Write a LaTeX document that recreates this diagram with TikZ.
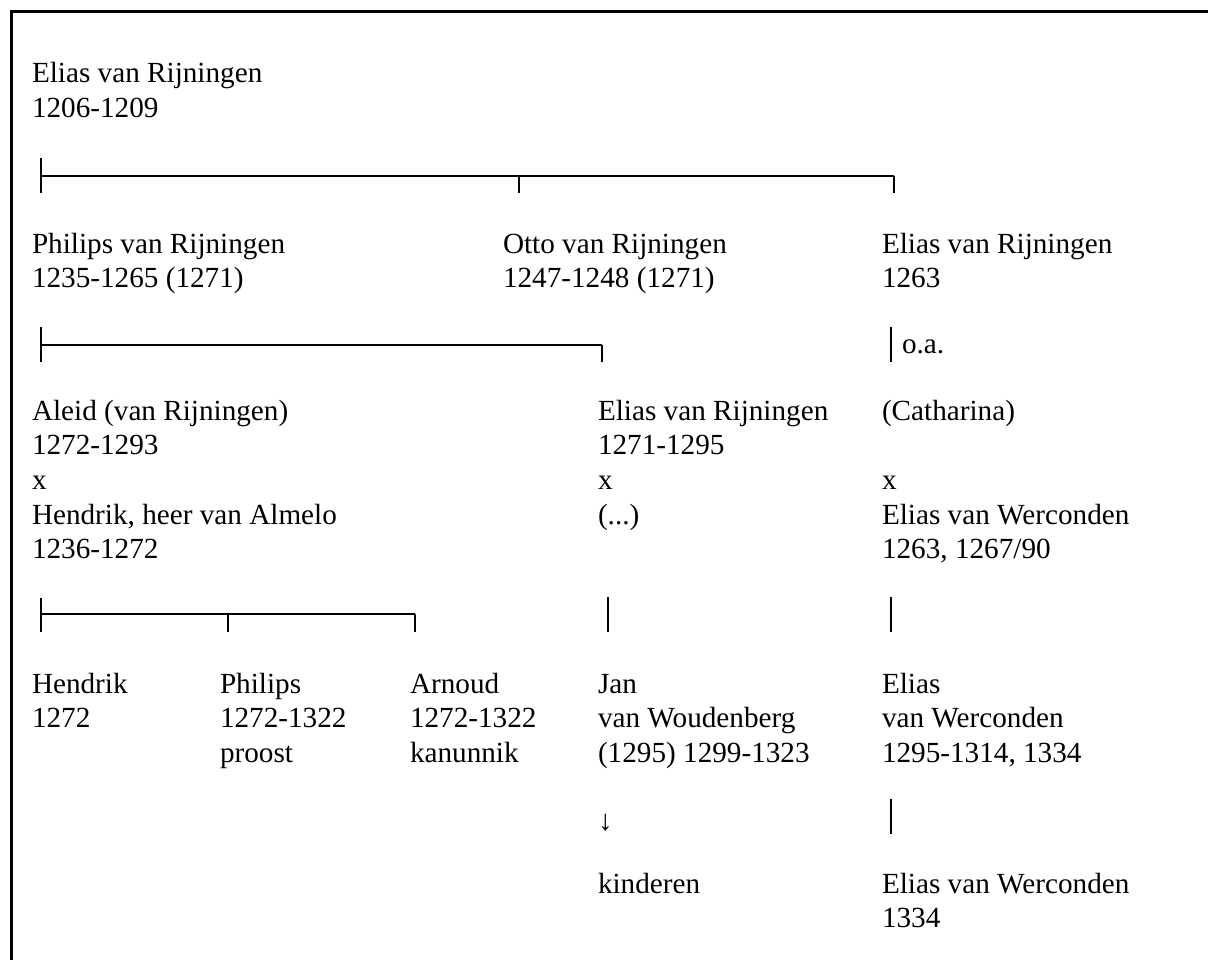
\documentclass[tikz,border=0pt]{standalone}
\usepackage{fontspec}
\setmainfont{Liberation Serif}
\begin{document}
\begin{tikzpicture}[x=1pt,y=-1pt,
  txt/.style={inner sep=0pt, outer sep=0pt, anchor=base west, align=left, font=\fontsize{29.2}{34.7}\selectfont},
  tick/.style={line width=2.6pt},
  hbar/.style={line width=1.6pt},
  frame/.style={line width=3pt}]
\useasboundingbox (0,0) rectangle (1208,960);
% frame (top and left edges visible)
\coordinate (fbl) at (11,960);
\coordinate (ftl) at (11,11.5);
\coordinate (ftr) at (1210,11.5);
\draw[frame] (fbl) -- (ftl) -- (ftr);

% note: base anchor of a multi-line node = baseline of its last line
% generation 1
\node[txt] (g1) at (32,117.7) {Elias van Rijningen\\1206-1209};

% bar 1
\coordinate (a1) at (41,158);
\coordinate (a2) at (41,193);
\coordinate (a3) at (41,176);
\coordinate (a4) at (894,176);
\coordinate (a5) at (519,176);
\coordinate (a6) at (519,193);
\coordinate (a7) at (894,193);
\draw[tick] (a1) -- (a2);
\draw[hbar] (a3) -- (a4);
\draw[tick] (a5) -- (a6);
\draw[tick] (a4) -- (a7);

% generation 2
\node[txt] (g2a) at (32,287.7) {Philips van Rijningen\\1235-1265 (1271)};
\node[txt] (g2b) at (503,287.7) {Otto van Rijningen\\1247-1248 (1271)};
\node[txt] (g2c) at (882,287.7) {Elias van Rijningen\\1263};

% bar 2
\coordinate (b1) at (41,327);
\coordinate (b2) at (41,362);
\coordinate (b3) at (41,345);
\coordinate (b4) at (602,345);
\coordinate (b5) at (602,362);
\draw[tick] (b1) -- (b2);
\draw[hbar] (b3) -- (b4);
\draw[tick] (b4) -- (b5);
\coordinate (c1) at (891,327);
\coordinate (c2) at (891,362);
\draw[tick] (c1) -- (c2);
\node[txt] (oa) at (902,353) {o.a.};

% generation 3
\node[txt] (g3a) at (32,558.8) {Aleid (van Rijningen)\\1272-1293\\x\\Hendrik, heer van Almelo\\1236-1272};
\node[txt] (g3b) at (598,524.1) {Elias van Rijningen\\1271-1295\\x\\(...)};
\node[txt] (g3c) at (882,558.8) {(Catharina)\\\\x\\Elias van Werconden\\1263, 1267/90};

% bar 3
\coordinate (d1) at (41,598);
\coordinate (d2) at (41,632);
\coordinate (d3) at (41,614);
\coordinate (d4) at (415,614);
\coordinate (d5) at (228,614);
\coordinate (d6) at (228,632);
\coordinate (d7) at (415,632);
\draw[tick] (d1) -- (d2);
\draw[hbar] (d3) -- (d4);
\draw[tick] (d5) -- (d6);
\draw[tick] (d4) -- (d7);
\coordinate (e1) at (608,597);
\coordinate (e2) at (608,632);
\draw[tick] (e1) -- (e2);
\coordinate (f1) at (891,597);
\coordinate (f2) at (891,632);
\draw[tick] (f1) -- (f2);

% generation 4
\node[txt] (g4a) at (32,727.7) {Hendrik\\1272};
\node[txt] (g4b) at (220,762.4) {Philips\\1272-1322\\proost};
\node[txt] (g4c) at (410,762.4) {Arnoud\\1272-1322\\kanunnik};
\node[txt] (g4d) at (598,762.4) {Jan\\van Woudenberg\\(1295) 1299-1323};
\node[txt] (g4e) at (882,762.4) {Elias\\van Werconden\\1295-1314, 1334};

% down links
\node[txt] (arr) at (598,830) {↓};
\coordinate (h1) at (891,799);
\coordinate (h2) at (891,834);
\draw[tick] (h1) -- (h2);

% generation 5
\node[txt] (g5a) at (598,893) {kinderen};
\node[txt] (g5b) at (882,927.7) {Elias van Werconden\\1334};
\end{tikzpicture}
\end{document}
